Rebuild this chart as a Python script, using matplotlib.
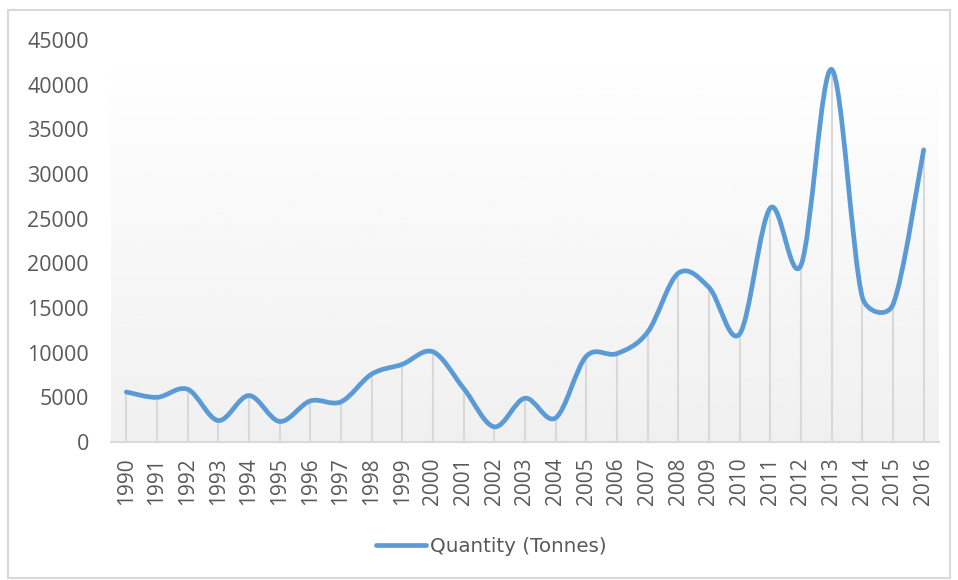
import numpy as np
import matplotlib.pyplot as plt
from matplotlib.path import Path
from matplotlib.patches import PathPatch, Rectangle
from matplotlib.lines import Line2D

years = [str(y) for y in range(1990, 2017)]
quantity = [5600, 5000, 5900, 2400, 5200, 2300, 4600, 4500, 7600, 8700,
            10100, 6000, 1700, 4900, 2700, 9600, 9900, 12300, 18900, 17300,
            12100, 26200, 19800, 41700, 16200, 15400, 32700]

line_color = "#5b9bd5"
text_color = "#595959"
grid_color = "#d9d9d9"

fig = plt.figure(figsize=(9.58, 5.8), dpi=100)
ax = fig.add_axes([111 / 958, 1 - 442 / 580, (939 - 111) / 958, (442 - 40) / 580])

# chart border
fig.patches.append(Rectangle((8 / 958, 2 / 580), 942 / 958, 568 / 580,
                             transform=fig.transFigure, fill=False,
                             edgecolor="#d9d9d9", lw=1.5))

# plot-area gradient (white at top, light gray at bottom)
grad = np.linspace(1.0, 0.94, 256).reshape(-1, 1)
ax.imshow(grad, extent=[0, 1, 0, 1], transform=ax.transAxes, aspect="auto",
          cmap="gray", vmin=0, vmax=1, zorder=0)

ax.set_xlim(-0.5, len(years) - 0.5)
ax.set_ylim(0, 45000)

x = np.arange(len(years))
y = np.array(quantity, dtype=float)

# drop lines
ax.vlines(x, 0, y, color=grid_color, lw=1.5, zorder=1)

# smoothed line, Excel style: Catmull-Rom legs in screen space,
# each leg capped at half the length of its segment
pts = ax.transData.transform(np.column_stack([x, y]))
ext = np.vstack([pts[0], pts, pts[-1]])


def leg(a, b, seg):
    v = (b - a) / 6
    n = np.hypot(*v)
    cap = 0.5 * seg
    return v * (cap / n) if n > cap else v


verts = [pts[0]]
codes = [Path.MOVETO]
for i in range(len(pts) - 1):
    p0, p1, p2, p3 = ext[i], ext[i + 1], ext[i + 2], ext[i + 3]
    seg = np.hypot(*(p2 - p1))
    c1 = p1 + leg(p0, p2, seg)
    c2 = p2 - leg(p1, p3, seg)
    verts += [c1, c2, p2]
    codes += [Path.CURVE4] * 3
verts = ax.transData.inverted().transform(np.array(verts))
ax.add_patch(PathPatch(Path(verts, codes), facecolor="none", edgecolor=line_color,
                       lw=3.4, capstyle="round", joinstyle="round", zorder=3))

ax.set_yticks(range(0, 45001, 5000))
ax.set_xticks(x)
ax.set_xticklabels(years, rotation=90)

for s in ["top", "right", "left"]:
    ax.spines[s].set_visible(False)
ax.spines["bottom"].set_color(grid_color)
ax.spines["bottom"].set_linewidth(1.5)
ax.spines["bottom"].set_zorder(2)
ax.tick_params(axis="both", length=0, colors=text_color)
ax.tick_params(axis="y", pad=16, labelsize=15.5)
ax.tick_params(axis="x", pad=11, labelsize=15)
for lab in ax.get_yticklabels() + ax.get_xticklabels():
    lab.set_fontfamily("Open Sans")

handle = Line2D([], [], color=line_color, lw=3.4, solid_capstyle="round")
fig.legend([handle], ["Quantity (Tonnes)"], loc="center",
           bbox_to_anchor=(0.513, 0.057), frameon=False, handlelength=2.5,
           handletextpad=0.2, prop={"family": "Liberation Sans Narrow", "size": 14.3},
           labelcolor=text_color)

fig.savefig("out.png", dpi=100)
